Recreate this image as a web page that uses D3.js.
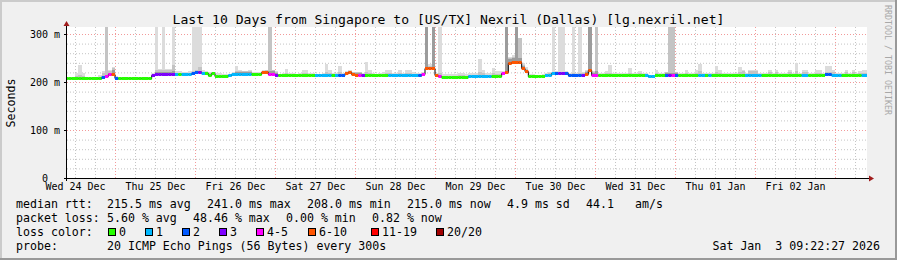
<!DOCTYPE html>
<html>
<head>
<meta charset="utf-8">
<script src="https://d3js.org/d3.v7.min.js"></script>
<style>
  html, body { margin: 0; padding: 0; background: #f0f0f0; }
  svg { display: block; }
  text { font-family: "DejaVu Sans Mono", monospace; fill: #000; white-space: pre; }
</style>
</head>
<body>
<div id="chart"></div>
<script>
const title = "Last 10 Days from Singapore to [US/TX] Nexril (Dallas) [lg.nexril.net]";

// y axis (values in ms)
const yTicks = [0, 100, 200, 300];
const yTickLabels = ["  0  ", "100 m", "200 m", "300 m"];

// hourly samples, first one starts Dec 24 09:00
// median rtt (ms)
const med = [
  208,208,208,208,208,208,208,208,208,208,
  208,211,213,216,216,209,208,208,208,208,
  208,208,208,208,208,208,214,217,217,217,
  217,217,217,217,217,217,217,217,219,220,
  221,218,219,215,219,212,212,212,213,214,
  217,217,217,217,217,217,217,217,217,220,
  221,217,216,215,215,215,215,215,215,215,
  215,215,215,215,215,215,215,215,215,215,
  215,215,215,215,218,220,216,215,215,215,
  215,215,215,215,215,215,215,215,215,215,
  215,215,215,215,215,215,214,217,230,230,
  229,215,213,211,211,211,211,211,211,211,
  211,213,213,213,213,213,213,213,213,213,
  213,218,220,240,241,241,241,229,222,213,
  213,213,213,213,215,215,218,218,218,218,
  218,215,215,215,215,215,217,226,215,215,
  215,215,215,215,215,215,215,215,215,215,
  215,215,215,215,215,212,212,215,215,215,
  215,215,215,215,215,215,215,215,215,215,
  215,215,215,215,215,215,215,215,215,215,
  215,215,215,215,215,215,215,215,215,215,
  215,215,215,215,215,215,215,215,215,215,
  215,215,215,215,215,215,215,215,216,216,
  214,214,214,215,215,215,215,215,215,215,
  215
];
// lost pings out of 20
const loss = [
  0,0,0,0,0,0,0,0,0,0,
  0,2,4,5,7,2,0,0,0,0,
  0,0,0,0,0,0,3,3,3,3,
  3,3,3,1,0,1,1,1,2,2,
  3,1,0,0,0,0,0,0,0,1,
  1,1,1,1,1,1,0,0,0,7,
  7,4,4,3,0,0,0,0,0,0,
  0,0,0,0,0,1,1,1,1,1,
  0,1,2,2,7,7,7,7,4,3,
  0,0,0,0,0,0,0,1,1,1,
  1,1,1,1,1,1,2,4,7,7,
  7,7,4,0,0,0,0,0,0,0,
  0,1,1,1,1,1,1,1,0,0,
  0,4,7,7,7,7,7,7,7,0,
  0,0,0,0,1,1,1,2,3,3,
  2,2,2,2,2,3,7,7,4,4,
  0,0,0,0,0,0,0,0,0,0,
  0,0,0,0,1,1,1,0,0,0,
  2,3,4,2,0,0,0,0,0,0,
  1,1,0,1,0,0,0,0,0,0,
  0,0,0,0,1,1,1,1,1,0,
  0,0,0,0,0,0,0,0,0,0,
  0,1,1,0,0,0,0,0,2,2,
  1,1,1,0,0,0,0,0,0,1,
  1
];
// smoke: top of light, medium and dark bands (ms, 400 = off the chart)
const smokeHi = [
  210,210,210,219,235,219,210,210,210,210,
  214,222,400,224,232,212,211,211,211,210,
  210,210,211,210,210,210,218,400,228,400,
  228,228,400,222,222,221,221,222,400,400,
  400,226,222,221,221,219,219,216,216,217,
  220,234,224,222,222,225,220,220,221,224,
  226,400,226,222,217,218,227,219,218,217,
  218,224,224,218,218,217,217,218,238,226,
  218,219,234,219,222,224,221,221,221,219,
  241,226,218,217,218,220,224,224,218,219,
  226,219,226,224,221,219,218,221,400,238,
  400,219,400,216,216,216,217,216,218,218,
  216,218,218,218,248,225,218,218,230,222,
  222,222,400,252,256,400,291,240,232,216,
  216,215,215,216,219,221,400,222,400,400,
  222,219,400,219,400,221,224,400,222,400,
  219,219,222,236,218,218,218,218,218,229,
  218,218,222,218,218,215,215,226,218,218,
  221,400,400,221,218,218,225,218,218,224,
  238,218,218,218,218,233,224,218,218,218,
  218,218,232,224,218,224,224,224,218,218,
  218,224,218,224,218,218,218,224,218,239,
  218,224,224,218,218,226,226,218,233,233,
  224,218,218,218,224,218,224,218,222,226,
  226
];
const smokeMid = [
  208,208,208,212,214,212,208,208,208,208,
  211,218,400,222,230,210,209,209,208,208,
  208,208,209,208,208,208,216,226,226,226,
  226,226,236,219,219,219,219,219,222,224,
  232,221,220,218,220,214,214,214,214,215,
  218,222,222,222,222,222,218,218,218,222,
  224,400,224,221,216,216,218,216,216,216,
  216,218,218,216,216,216,216,216,220,218,
  216,217,220,217,220,222,221,221,221,217,
  220,218,216,216,216,216,218,218,216,216,
  218,216,218,218,217,216,216,219,400,234,
  400,217,218,213,213,213,213,213,214,214,
  213,215,215,215,220,218,215,215,218,216,
  216,220,400,250,252,400,291,236,228,214,
  214,214,214,214,217,218,221,220,221,221,
  220,217,219,217,219,218,222,400,220,400,
  217,217,218,218,216,216,216,216,216,218,
  216,216,218,216,216,214,214,218,216,216,
  221,400,400,221,216,216,218,216,216,218,
  222,216,216,216,216,220,218,216,216,216,
  216,216,220,222,216,222,222,222,216,216,
  216,220,216,220,216,216,216,220,216,222,
  216,221,221,216,216,218,218,216,220,220,
  220,216,216,216,220,216,220,216,218,218,
  218
];
const smokeDark = [
  208,208,208,208,208,208,208,208,208,208,
  208,211,215,218,226,209,208,208,208,208,
  208,208,208,208,208,208,214,220,220,220,
  220,220,222,217,217,217,217,217,219,220,
  222,218,219,215,219,212,212,212,213,214,
  217,220,220,220,220,220,217,217,217,220,
  222,222,222,218,215,215,215,215,215,215,
  215,215,215,215,215,215,215,215,215,215,
  215,215,215,215,218,220,218,218,218,215,
  215,215,215,215,215,215,215,215,215,215,
  215,215,215,215,215,215,214,217,400,232,
  400,215,213,211,211,211,211,211,211,211,
  211,213,213,213,213,213,213,213,213,213,
  213,220,400,248,250,400,250,234,226,213,
  213,213,213,213,215,215,218,218,218,218,
  218,215,215,215,215,215,220,400,218,222,
  215,215,215,215,215,215,215,215,215,215,
  215,215,215,215,215,212,212,215,215,215,
  218,218,218,218,215,215,215,215,215,215,
  215,215,215,215,215,215,215,215,215,215,
  215,215,215,215,215,217,217,215,215,215,
  215,215,215,215,215,215,215,215,215,215,
  215,217,217,215,215,215,215,215,216,216,
  214,214,214,215,215,215,215,215,215,215,
  215
];

// loss colour legend
const lossMax    = [0, 1, 2, 3, 5, 10, 19, 20];
const lossLabels = ["0", "1", "2", "3", "4-5", "6-10", "11-19", "20/20"];
const lossColors = ["#26ff00", "#00b8ff", "#0059ff", "#7e00ff", "#ff00ff", "#ff5500", "#ff0000", "#a00000"];

// legend text
const rttStats  = ["215.5 ms avg", "241.0 ms max", "208.0 ms min", "215.0 ms now", "4.9 ms sd", "44.1", "am/s"];
const lossStats = ["5.60 % avg", "48.46 % max", "0.00 % min", "0.82 % now"];
const probeText = "20 ICMP Echo Pings (56 Bytes) every 300s";
const stamp = "Sat Jan  3 09:22:27 2026";

const W = 897, H = 260;
const plot = { left: 67, right: 867, top: 27, bottom: 178 };

const tStart = new Date(Date.UTC(2025, 11, 24, 9, 36));
const tEnd   = new Date(Date.UTC(2026, 0, 3, 9, 36));
const t0     = new Date(Date.UTC(2025, 11, 24, 9, 0));

const x = d3.scaleTime().domain([tStart, tEnd]).range([plot.left, plot.right]);
const y = d3.scaleLinear().domain([0, 300]).range([plot.bottom, 34]);

const lossColor = l => lossColors[lossMax.findIndex(b => l <= b)];

const rows = med.map((m, i) => ({
  t: d3.utcHour.offset(t0, i),
  t1: d3.utcHour.offset(t0, i + 1),
  med: m, loss: loss[i], hi: smokeHi[i], mid: smokeMid[i], dark: smokeDark[i]
}));

const svg = d3.select('#chart').append('svg')
  .attr('width', W).attr('height', H);

// background + shade
svg.append('rect').attr('width', W).attr('height', H).attr('fill', '#f0f0f0');
svg.append('rect').attr('width', W).attr('height', 2).attr('fill', '#cbcbcb');
svg.append('rect').attr('width', 2).attr('height', H).attr('fill', '#cbcbcb');
svg.append('rect').attr('y', H - 2).attr('width', W).attr('height', 2).attr('fill', '#999');
svg.append('rect').attr('x', W - 2).attr('width', 2).attr('height', H).attr('fill', '#999');

svg.append('rect')
  .attr('x', plot.left).attr('y', plot.top)
  .attr('width', plot.right - plot.left).attr('height', plot.bottom - plot.top)
  .attr('fill', '#fff');

svg.append('clipPath').attr('id', 'clip').append('rect')
  .attr('x', plot.left).attr('y', plot.top)
  .attr('width', plot.right - plot.left).attr('height', plot.bottom - plot.top);

// grid
const minorY = d3.range(20, 320, 20).filter(v => v % 100 !== 0);
const majorY = [100, 200, 300];
const gridG = svg.append('g').attr('clip-path', 'url(#clip)');

gridG.append('g')
  .attr('transform', `translate(${plot.left},0)`)
  .call(d3.axisLeft(y).tickValues(minorY).tickSize(-(plot.right - plot.left)).tickFormat(''))
  .call(g => g.select('.domain').remove())
  .call(g => g.selectAll('line').attr('stroke', '#c4c4c4').attr('stroke-dasharray', '1,2'));

gridG.append('g')
  .attr('transform', `translate(0,${plot.bottom})`)
  .call(d3.axisBottom(x).ticks(d3.utcHour.every(6)).tickSize(-(plot.bottom - plot.top)).tickFormat(''))
  .call(g => g.select('.domain').remove())
  .call(g => g.selectAll('line').attr('stroke', '#c4c4c4').attr('stroke-dasharray', '1,2'));

gridG.append('g')
  .attr('transform', `translate(${plot.left},0)`)
  .call(d3.axisLeft(y).tickValues(majorY).tickSize(-(plot.right - plot.left)).tickFormat(''))
  .call(g => g.select('.domain').remove())
  .call(g => g.selectAll('line').attr('stroke', '#f29a9a').attr('stroke-dasharray', '1,2'));

gridG.append('g')
  .attr('transform', `translate(0,${plot.bottom})`)
  .call(d3.axisBottom(x).ticks(d3.utcDay.every(1)).tickSize(-(plot.bottom - plot.top)).tickFormat(''))
  .call(g => g.select('.domain').remove())
  .call(g => g.selectAll('line').attr('stroke', '#f29a9a').attr('stroke-dasharray', '1,2'));

// smoke
const dataG = svg.append('g').attr('clip-path', 'url(#clip)');
const smokeLayers = [['hi', '#dcdcdc'], ['mid', '#c4c4c4'], ['dark', '#9c9c9c']];
smokeLayers.forEach(([key, col]) => {
  dataG.append('g').selectAll('rect')
    .data(rows.filter(d => d[key] > d.med))
    .join('rect')
    .attr('x', d => x(d.t))
    .attr('width', d => x(d.t1) - x(d.t))
    .attr('y', d => y(d[key]))
    .attr('height', d => y(d.med) - y(d[key]) + 1.5)
    .attr('fill', col)
    .attr('shape-rendering', 'crispEdges');
});

// median: thin dark step line, then loss coloured segments
const stepPts = rows.map(d => [d.t, d.med]).concat([[rows[rows.length - 1].t1, rows[rows.length - 1].med]]);
dataG.append('path')
  .datum(stepPts)
  .attr('fill', 'none')
  .attr('stroke', '#000')
  .attr('stroke-width', 1)
  .attr('d', d3.line().curve(d3.curveStepAfter).x(d => x(d[0])).y(d => Math.round(y(d[1])) + 0.5));

dataG.append('g').selectAll('line')
  .data(rows)
  .join('line')
  .attr('x1', d => x(d.t))
  .attr('x2', d => x(d.t1))
  .attr('y1', d => Math.round(y(d.med)) + 0.5)
  .attr('y2', d => Math.round(y(d.med)) + 0.5)
  .attr('stroke', d => lossColor(d.loss))
  .attr('stroke-width', 3);

// axes
const axisG = svg.append('g');
axisG.append('g')
  .attr('transform', `translate(${plot.left},0)`)
  .call(d3.axisLeft(y).tickValues(yTicks).tickSize(3).tickPadding(0).tickFormat(''))
  .call(g => g.select('.domain').remove())
  .call(g => g.selectAll('line').attr('stroke', '#000'));

axisG.append('g')
  .selectAll('text')
  .data(yTicks)
  .join('text')
  .attr('xml:space', 'preserve')
  .attr('x', 30)
  .attr('y', d => y(d))
  .attr('dy', '0.35em')
  .attr('font-size', '10px')
  .text((d, i) => yTickLabels[i]);

axisG.append('line')
  .attr('x1', plot.left - 3).attr('x2', plot.right + 3)
  .attr('y1', plot.bottom + 0.5).attr('y2', plot.bottom + 0.5)
  .attr('stroke', '#000');
axisG.append('line')
  .attr('x1', plot.left - 0.5).attr('x2', plot.left - 0.5)
  .attr('y1', plot.bottom + 3).attr('y2', plot.top - 2)
  .attr('stroke', '#000');
axisG.append('path')
  .attr('d', `M${plot.right + 2},${plot.bottom - 2.5} L${plot.right + 7},${plot.bottom + 0.5} L${plot.right + 2},${plot.bottom + 3.5} Z`)
  .attr('fill', '#a01c1c');
axisG.append('path')
  .attr('d', `M${plot.left - 3.5},${plot.top - 1} L${plot.left - 0.5},${plot.top - 6} L${plot.left + 2.5},${plot.top - 1} Z`)
  .attr('fill', '#a01c1c');

// day labels at noon (only those inside the time range)
const noons = d3.utcDay.range(d3.utcDay.floor(tStart), tEnd)
  .map(d => d3.utcHour.offset(d, 12))
  .filter(d => d < tEnd);
axisG.append('g')
  .attr('transform', `translate(0,${plot.bottom})`)
  .call(d3.axisBottom(x).tickValues(noons).tickSize(0).tickPadding(5).tickFormat(d3.utcFormat('%a %d %b')))
  .call(g => g.select('.domain').remove())
  .call(g => g.selectAll('text')
    .attr('font-family', '"DejaVu Sans Mono", monospace')
    .attr('font-size', '10px')
    .attr('fill', '#000'));

// titles
svg.append('text')
  .attr('x', W / 2).attr('y', 19).attr('dy', '0.35em')
  .attr('text-anchor', 'middle').attr('font-size', '13.1px')
  .text(title);

svg.append('text')
  .attr('transform', 'translate(11,103) rotate(-90)')
  .attr('text-anchor', 'middle').attr('dy', '0.35em')
  .attr('font-size', '11.6px')
  .text('Seconds');

svg.append('text')
  .attr('transform', 'translate(888,60) rotate(90)')
  .attr('text-anchor', 'middle').attr('dy', '0.35em')
  .attr('font-size', '8.3px')
  .style('fill', '#a8a8a8')
  .text('RRDTOOL / TOBI OETIKER');

// legend
const leg = svg.append('g').attr('font-size', '11.6px');
const legText = (txt, lx, ly, anchor) => leg.append('text')
  .attr('xml:space', 'preserve')
  .attr('x', lx).attr('y', ly).attr('dy', '0.35em')
  .attr('text-anchor', anchor || 'start')
  .text(txt);

legText('median rtt:', 16, 204);
const rttX = [107, 207, 307, 407, 507, 586, 635];
rttStats.forEach((s, i) => legText(s, rttX[i], 204));

legText('packet loss:', 16, 218);
const lossX = [107, 193, 286, 372];
lossStats.forEach((s, i) => legText(s, lossX[i], 218));

legText('loss color:', 16, 232);
const boxX = [108, 145, 182, 219, 256, 308, 371, 436];
lossLabels.forEach((lab, i) => {
  leg.append('rect')
    .attr('x', boxX[i] + 0.5).attr('y', 228.5)
    .attr('width', 7).attr('height', 7)
    .attr('fill', lossColors[i])
    .attr('stroke', '#000').attr('stroke-width', 1);
  legText(lab, boxX[i] + 11, 232);
});

legText('probe:', 16, 246);
legText(probeText, 107, 246);
legText(stamp, 880, 246, 'end');
</script>
</body>
</html>
